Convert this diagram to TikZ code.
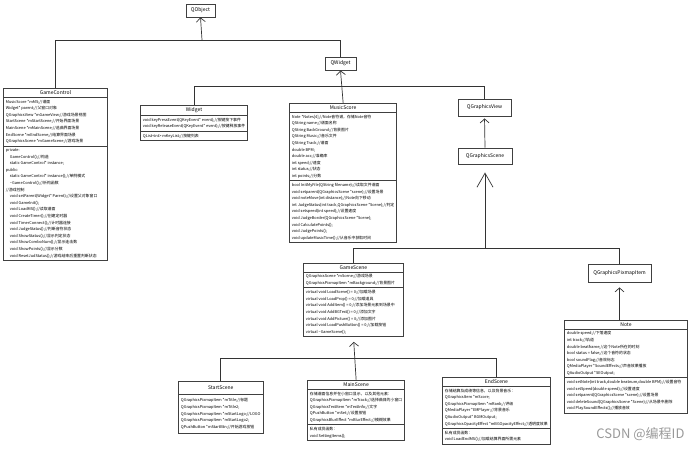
\documentclass[tikz,border=0pt]{standalone}
\usepackage{fontspec}
\setmainfont{Noto Sans CJK SC}
\usetikzlibrary{shapes.multipart,arrows.meta}

\newcommand{\clsfont}{\fontsize{3.9}{6.6}\selectfont}
\newcommand{\ttlfont}{\fontsize{5}{6}\selectfont}
\newcommand{\ind}{\hspace*{4pt}}

\begin{document}
\begin{tikzpicture}[x=1pt,y=-1pt,
    base/.style={draw=black!75, line width=0.9pt, fill=white, inner sep=1pt, font=\ttlfont},
    cls/.style={rectangle split, rectangle split parts=#1, draw=black!75, line width=0.9pt,
        fill=white, align=left, font=\clsfont, inner xsep=2.5pt, inner ysep=2pt,
        rectangle split part align={center,left,left}, anchor=north west},
    cls/.default=3,
    inh/.style={draw=black!80, line width=0.7pt, -{Straight Barb[length=4pt,width=9pt]}},
    bigline/.style={draw=black!80, line width=0.7pt, -{Straight Barb[length=14pt,width=16pt]}},
]
    \useasboundingbox (0,0) rectangle (692,448);

    \node[base, minimum width=29pt, minimum height=13pt] (qobject) at (200.5,10.5) {QObject};
    \node[base, minimum width=31pt, minimum height=13pt] (qwidget) at (340.5,63.5) {QWidget};
    \node[base, minimum width=53pt, minimum height=17pt] (qgview) at (484.5,107.5) {QGraphicsView};
    \node[base, minimum width=54pt, minimum height=16pt] (qgscene) at (485,156) {QGraphicsScene};
    \node[base, minimum width=63pt, minimum height=18pt] (qgpixmap) at (619.5,273) {QGraphicsPixmapItem};

    \node[cls, minimum width=104pt] (gamecontrol) at (3,88) {{\ttlfont GameControl}
        \nodepart{two}
        MusicScore *mMS;//谱面\\
        Widget* parent;//父窗口对象\\
        QGraphicsView *mGameView;//游戏场景视图\\
        StartScene *mStartScene;//开始界面场景\\
        MainScene *mMainScene;//选曲界面场景\\
        EndScene *mEndScene;//结算界面场景\\
        QGraphicsScene *mGameScene;//游戏场景
        \nodepart{three}
        private:\\
        \ind GameControl();//构造\\
        \ind static GameControl* instance;\\
        public:\\
        \ind static GameControl* instance();//单例模式\\
        \ind \textasciitilde GameControl();//析构函数\\
        //游戏控制\\
        \ind void setParent(Widget* Parent);//设置父对象窗口\\
        \ind void GameInit();\\
        \ind void LoadMS();//读取谱面\\
        \ind void CreateTimer();//创建定时器\\
        \ind void TimerConnect();//计时器连接\\
        \ind void JudgeStatus();//判断音符状态\\
        \ind void ShowStatus();//显示判定状态\\
        \ind void ShowComboNum();//显示连击数\\
        \ind void ShowPoints();//显示分数\\
        \ind void ResetJudStatus();//游戏结束后重置判断状态};

    \node[cls, minimum width=105pt] (widget) at (140,105) {{\ttlfont Widget}
        \nodepart{two}
        void keyPressEvent(QKeyEvent* event);//按键按下事件\\
        void keyReleaseEvent(QKeyEvent* event);//按键释放事件
        \nodepart{three}
        QList<int> mKeyList;//按键列表};

    \node[cls, minimum width=104pt] (musicscore) at (289,103) {{\ttlfont MusicScore}
        \nodepart{two}
        Note *Notes[4];//Note音符谱，存储Note音符\\
        QString name;//谱面名称\\
        QString BackGround;//背景图片\\
        QString Music;//音乐文件\\
        QString Track;//谱面\\
        double BPM;\\
        double acc;//准确率\\
        int speed;//速度\\
        int status;//状态\\
        int points;//分数
        \nodepart{three}
        bool InitMyFile(QString filename);//读取文件谱面\\
        void setparent(QGraphicsScene *scene);//设置场景\\
        void noteMove(int distance);//Note向下移动\\
        int JudgeStatus(int track,QGraphicsScene *Scene);//判定\\
        void setspeed(int speed);//设置速度\\
        void JudgeBorder(QGraphicsScene *Scene);\\
        void CalculatePoints();\\
        void JudgePoints();\\
        void updateMusicTime();//从音乐中获取时间};

    \node[cls, minimum width=100pt] (gamescene) at (303,263) {{\ttlfont GameScene}
        \nodepart{two}
        QGraphicsScene *mScene;//游戏场景\\
        QGraphicsPixmapItem *mBackground;//背景图片
        \nodepart{three}
        virtual void LoadScene() = 0;//加载场景\\
        virtual void LoadProp() = 0;//加载道具\\
        virtual void AddItem() = 0;//添加场景元素到场景中\\
        virtual void AddBGText() = 0;//添加文字\\
        virtual void AddPicture() = 0;//添加图片\\
        virtual void LoadPushButton() = 0;//加载按钮\\
        virtual \textasciitilde GameScene();};

    \node[cls, minimum width=123pt] (note) at (564,320) {{\ttlfont Note}
        \nodepart{two}
        double speed;//下落速度\\
        int track;//轨道\\
        double beatframe;//这个Note所在的时刻\\
        bool status = false;//这个音符的状态\\
        bool soundFlag;//音效标志\\
        QMediaPlayer *SoundEffects;//声音效果播放\\
        QAudioOutput *SEOutput;
        \nodepart{three}
        void setNote(int track,double beatnum,double BPM);//设置音符\\
        void setSpeed(double speed);//设置速度\\
        void setparent(QGraphicsScene *scene);//设置场景\\
        void deleteSound(QGraphicsScene *Scene);//从场景中删除\\
        void PlaySoundEffects();//播放音效};

    \node[cls=2, minimum width=83pt, inner ysep=4pt] (startscene) at (178,381) {{\ttlfont StartScene}
        \nodepart{two}
        QGraphicsPixmapItem *mTitle;//标题\\
        QGraphicsPixmapItem *mTitle2;\\
        QGraphicsPixmapItem *mStartLogo;//LOGO\\
        QGraphicsPixmapItem *mStartLogo2;\\
        QPushButton *mStartBtn;//开始游戏按钮};

    \node[cls, minimum width=91pt] (mainscene) at (307,380) {{\ttlfont MainScene}
        \nodepart{two}
        存储谱面信息并在小窗口显示，以及其他元素：\\
        QGraphicsPixmapItem *mTrack;//选择曲目的小窗口\\
        QGraphicsTextItem *mTextInfo;//文字\\
        QPushButton *mSet;//设置按钮\\
        QGraphicsBlurEffect *mBlurEffect;//模糊效果
        \nodepart{three}
        私有成员函数：\\
        void SettingItems();};

    \node[cls, minimum width=108pt] (endscene) at (442,377) {{\ttlfont EndScene}
        \nodepart{two}
        存储结算及成绩等信息，以及背景音乐：\\
        QGraphicsItem *mScore;\\
        QGraphicsPixmapItem *mRank;//评级\\
        QMediaPlayer *EMPlayer;//背景音乐\\
        QAudioOutput* BGMOutput;\\
        QGraphicsOpacityEffect *mBGOpacityEffect;//透明度效果
        \nodepart{three}
        私有成员函数：\\
        void LoadEndMS();//加载结算界面所需元素};

    \coordinate (objbus) at (202,40);
    \coordinate (wbus) at (341,86);
    \coordinate (sbus) at (485,248);
    \coordinate (gbus) at (354,358);

    \draw[draw=black!80, line width=0.7pt] (gamecontrol.north) -- (gamecontrol.north |- objbus) -- (qwidget.north |- objbus) -- (qwidget.north);
    \draw[inh] (objbus) -- (qobject.south);
    \draw[draw=black!80, line width=0.7pt] (widget.north) -- (widget.north |- wbus) -- (qgview.north |- wbus) -- (qgview.north);
    \draw[inh] (musicscore.north) -- (qwidget.south);
    \draw[inh, shorten >=2pt] (qgscene.north) -- (qgview.south);
    \draw[draw=black!80, line width=0.7pt] (gamescene.north) -- (gamescene.north |- sbus) -- (qgpixmap.north |- sbus) -- (qgpixmap.north);
    \draw[bigline, shorten >=8pt] (sbus) -- (qgscene.south);
    \draw[inh, shorten >=5pt] (qgpixmap.south |- note.north) -- (qgpixmap.south);
    \draw[draw=black!80, line width=0.7pt] (startscene.north) -- (startscene.north |- gbus) -- (endscene.north |- gbus) -- (endscene.north);
    \draw[inh, shorten >=5pt] (mainscene.north) -- (gamescene.south);

    \node[text=black!40, font=\fontsize{13}{13}\selectfont, anchor=south east] (mark) at (688,444) {CSDN @编程ID};
\end{tikzpicture}
\end{document}
